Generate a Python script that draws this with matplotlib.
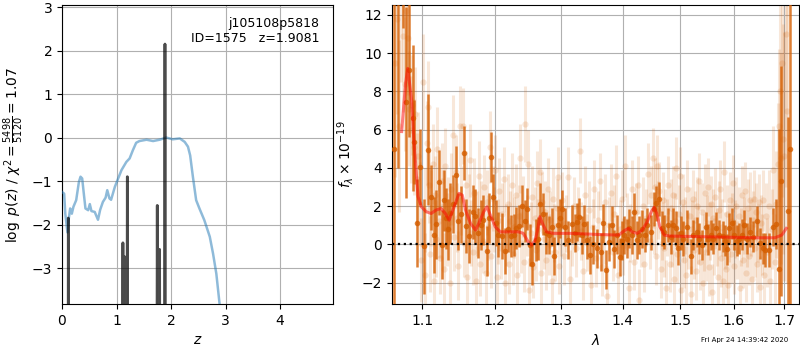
import numpy as np
import matplotlib
matplotlib.use("Agg")
import matplotlib.pyplot as plt
from matplotlib.ticker import NullLocator, FixedLocator, FixedFormatter

# ---------------- left panel data ----------------
z_chi = [0.0, 0.02, 0.04, 0.06, 0.10, 0.12, 0.15, 0.18, 0.21, 0.26, 0.31, 0.34, 0.37, 0.40,
         0.43, 0.48, 0.51, 0.54, 0.60, 0.66, 0.70, 0.75, 0.80, 0.83, 0.87, 0.90, 0.97, 1.03,
         1.09, 1.18, 1.24, 1.30, 1.36, 1.42, 1.55, 1.67, 1.79, 1.91, 2.03, 2.16, 2.25, 2.31,
         2.35, 2.40, 2.46, 2.52, 2.61, 2.71, 2.77, 2.83, 2.89, 2.95]
chi_val = [-1.25, -1.27, -1.29, -1.75, -2.18, -1.90, -1.63, -1.75, -1.59, -1.44, -1.02, -0.90,
           -0.94, -1.29, -1.63, -1.67, -1.53, -1.69, -1.71, -1.89, -1.66, -1.48, -1.38, -1.21,
           -1.40, -1.43, -1.13, -0.94, -0.75, -0.56, -0.48, -0.29, -0.12, -0.08, -0.05, -0.08,
           -0.05, 0.00, -0.04, -0.02, -0.10, -0.21, -0.41, -0.90, -1.44, -1.63, -1.90, -2.28,
           -2.67, -3.13, -3.83, -4.40]

z_pz = [0.0, 0.110, 0.116, 0.122, 1.105, 1.117, 1.128, 1.138, 1.148, 1.158, 1.188, 1.198,
        1.208, 1.737, 1.747, 1.757, 1.779, 1.789, 1.799, 1.877, 1.888, 1.899, 4.97]
logpz = [-8, -8, -1.85, -8, -8, -2.42, -8, -8, -2.74, -8, -8, -0.90, -8, -8, -1.56, -8, -8,
         -2.57, -8, -8, 2.15, -8, -8]

# ---------------- right panel data ----------------
# binned spectrum (bold points)
wl_bin = [1.0636, 1.0680, 1.0743, 1.0787, 1.0829, 1.0873, 1.0893, 1.0928, 1.0968, 1.1025,
          1.1079, 1.1114, 1.1158, 1.1181, 1.1227, 1.1263, 1.1290, 1.1318, 1.1345, 1.1377,
          1.1418, 1.1459, 1.1490, 1.1524, 1.1569, 1.1597, 1.1639, 1.1687, 1.1723, 1.1760,
          1.1800, 1.1833, 1.1885, 1.1914, 1.1947, 1.1980, 1.2020, 1.2053, 1.2100, 1.2147,
          1.2194, 1.2234, 1.2278, 1.2317, 1.2355, 1.2400, 1.2440, 1.2474, 1.2521, 1.2555,
          1.2606, 1.2646, 1.2672, 1.2713, 1.2764, 1.2811, 1.2850, 1.2893, 1.2945, 1.2980,
          1.3017, 1.3060, 1.3101, 1.3164, 1.3217, 1.3255, 1.3286, 1.3330, 1.3367, 1.3410,
          1.3458, 1.3511, 1.3567, 1.3637, 1.3675, 1.3719, 1.3769, 1.3823, 1.3857, 1.3896,
          1.3952, 1.3990, 1.4024, 1.4065, 1.4104, 1.4149, 1.4194, 1.4235, 1.4280, 1.4331,
          1.4378, 1.4420, 1.4481, 1.4534, 1.4563, 1.4622, 1.4670, 1.4716, 1.4776, 1.4837,
          1.4880, 1.4925, 1.4965, 1.5010, 1.5060, 1.5131, 1.5191, 1.5240, 1.5301, 1.5350,
          1.5405, 1.5468, 1.5510, 1.5561, 1.5610, 1.5660, 1.5720, 1.5786, 1.5830, 1.5873,
          1.5910, 1.5956, 1.6006, 1.6055, 1.6103, 1.6150, 1.6194, 1.6250, 1.6314, 1.6380,
          1.6458, 1.6511, 1.6565, 1.6618, 1.6686, 1.6766, 1.6834, 1.6902, 1.6936, 1.7067,
          1.7118]
fl_bin = [5.0, 13.0, 15.5, 7.43, 9.12, 6.60, 5.35, 1.10, 4.06, -0.10,
          4.94, 2.46, 0.49, 1.06, 3.26, -0.02, 2.30, 1.36, 0.80, 1.62,
          2.11, 3.63, 1.20, 1.57, 4.78, 0.96, 0.45, 1.71, 1.50, 0.60,
          1.00, 1.27, -0.35, 1.39, 4.57, 2.49, 1.10, 0.52, 0.43, -0.32,
          0.80, 0.43, 0.49, 0.87, 0.96, 2.02, 1.24, 1.85, -0.04, -1.03,
          0.21, 0.31, 2.10, 1.57, 0.61, 0.49, 0.90, -0.59, 1.01, 1.36,
          1.85, 0.90, 0.23, 1.08, 0.61, 1.18, 1.41, 0.50, 1.05, 0.23,
          -0.56, 0.00, -0.21, -0.38, 1.10, -1.31, 0.14, 1.01, -0.24, 0.52,
          -0.66, 0.20, 0.49, 0.31, 0.84, 0.49, 1.67, 0.23, 0.49, 0.80,
          0.49, 1.01, 0.63, 1.85, 2.15, 2.37, 0.84, 0.66, 1.01, 0.40,
          1.01, 0.84, -0.18, 0.60, 0.30, 0.92, -0.62, 0.49, 0.66, 0.30,
          -0.03, 0.92, 0.26, 0.49, 0.30, 0.87, 0.49, 0.42, 0.20, -0.26,
          0.84, 1.10, 0.49, 0.20, 0.31, 0.52, 1.01, 0.31, 0.66, 0.40,
          1.22, 0.05, -0.21, -0.30, -0.30, 0.92, 1.05, -1.26, 3.31, 1.74,
          5.0]
er_bin = [20.0, 9.0, 4.2, 5.0, 3.5, 3.8, 2.2, 2.3, 2.0, 2.5,
          2.9, 1.7, 2.0, 1.8, 1.7, 1.8, 1.6, 1.6, 1.6, 1.6,
          1.5, 1.5, 1.5, 1.5, 1.4, 1.4, 1.4, 1.4, 1.4, 1.3,
          1.3, 1.3, 1.3, 1.3, 1.3, 1.2, 1.2, 1.2, 1.2, 1.2,
          1.2, 1.1, 1.1, 1.1, 1.1, 1.1, 1.1, 1.1, 1.1, 1.1,
          1.1, 1.1, 1.1, 1.1, 1.1, 1.0, 1.0, 1.0, 1.0, 1.0,
          1.0, 1.0, 1.0, 1.0, 1.0, 1.0, 1.0, 1.0, 1.0, 1.0,
          1.0, 1.0, 1.0, 1.0, 1.0, 1.0, 1.0, 1.0, 1.0, 1.0,
          1.0, 1.0, 1.0, 1.0, 1.0, 1.0, 1.0, 1.0, 1.0, 1.0,
          0.9, 0.9, 0.9, 0.9, 0.9, 0.9, 0.9, 0.9, 0.9, 0.9,
          0.9, 0.9, 0.9, 0.9, 0.9, 0.9, 0.9, 0.8, 0.8, 0.8,
          0.8, 0.8, 0.8, 0.8, 0.8, 0.8, 0.8, 0.8, 0.8, 0.8,
          0.8, 0.8, 0.8, 0.8, 0.8, 0.8, 0.8, 0.8, 0.8, 0.8,
          0.8, 0.8, 0.8, 0.9, 0.9, 1.0, 1.3, 7.3, 6.0, 4.9,
          20.0]

# unbinned spectrum (faint points)
wl_raw = [1.064, 1.067, 1.070, 1.072, 1.075, 1.077, 1.079, 1.081, 1.083, 1.085, 1.087, 1.089,
          1.091, 1.093, 1.095, 1.097, 1.099,
          1.101, 1.103, 1.104, 1.106, 1.107, 1.109, 1.110, 1.112, 1.114, 1.115, 1.117, 1.119,
          1.120, 1.122, 1.124, 1.126, 1.128, 1.129, 1.131, 1.133, 1.135, 1.137, 1.139, 1.141,
          1.143, 1.145, 1.147, 1.149, 1.151, 1.153, 1.155, 1.157, 1.159, 1.161, 1.163, 1.165,
          1.167, 1.169, 1.171, 1.173, 1.175, 1.177, 1.179, 1.181, 1.183, 1.185, 1.187, 1.189,
          1.191, 1.193, 1.195, 1.197, 1.199,
          1.201, 1.203, 1.205, 1.207, 1.209, 1.211, 1.213, 1.215, 1.217, 1.219, 1.221, 1.223,
          1.225, 1.227, 1.229, 1.231, 1.233, 1.235, 1.237, 1.239, 1.241, 1.243, 1.245, 1.247,
          1.249, 1.251, 1.253, 1.255, 1.257, 1.259, 1.261, 1.263, 1.265, 1.267, 1.269, 1.271,
          1.273, 1.275, 1.277, 1.279, 1.281, 1.283, 1.285, 1.287, 1.289, 1.291, 1.293, 1.295,
          1.297, 1.299,
          1.302, 1.305, 1.308, 1.311, 1.314, 1.317, 1.320, 1.323, 1.326, 1.329, 1.332, 1.335,
          1.338, 1.341, 1.344, 1.347, 1.350, 1.353, 1.356, 1.359, 1.362, 1.365, 1.368, 1.371,
          1.374, 1.377, 1.380, 1.383, 1.386, 1.389, 1.392, 1.395, 1.398, 1.401, 1.404, 1.407,
          1.410, 1.413, 1.416, 1.419, 1.422, 1.425, 1.428, 1.431, 1.434, 1.437, 1.440, 1.443,
          1.446, 1.449,
          1.451, 1.453, 1.455, 1.457, 1.459, 1.461, 1.463, 1.465, 1.467, 1.469, 1.471, 1.473,
          1.475, 1.477, 1.479, 1.481, 1.483, 1.485, 1.487, 1.489, 1.491, 1.493, 1.495, 1.497,
          1.499, 1.501, 1.503, 1.505, 1.507, 1.509, 1.511, 1.513, 1.515, 1.517, 1.519, 1.521,
          1.523, 1.525, 1.527, 1.529, 1.531, 1.533, 1.535, 1.537, 1.539, 1.541, 1.543, 1.545,
          1.547, 1.549, 1.551, 1.553, 1.555, 1.557, 1.559, 1.561, 1.563, 1.565, 1.567, 1.569,
          1.571, 1.573, 1.575, 1.577, 1.579, 1.581, 1.583, 1.585, 1.587, 1.589, 1.591, 1.593,
          1.595, 1.597, 1.599, 1.601, 1.603, 1.605, 1.607, 1.609, 1.611, 1.613, 1.615, 1.617,
          1.619, 1.621, 1.623, 1.625, 1.627, 1.629, 1.631, 1.633, 1.635, 1.637, 1.639, 1.641,
          1.643, 1.645, 1.647, 1.649, 1.651, 1.653, 1.655, 1.657,
          1.660, 1.663, 1.666, 1.669, 1.672, 1.675, 1.678, 1.681, 1.684, 1.687, 1.690, 1.692,
          1.694, 1.696, 1.698, 1.700, 1.703, 1.706]
fl_raw = [9.5, 11.8, 6.2, 13.5, 10.9, 8.4, 12.2, 10.8, 7.1, 6.0, 7.3, 5.1,
          6.8, 3.4, 4.6, 2.1, -0.8,
          8.5, 1.8, -1.6, 5.3, 7.2, 3.1, -0.5, 1.9, 4.2, -1.9, 2.6, 0.3,
          5.0, 1.2, -0.7, 3.3, 2.0, -1.3, 4.1, 0.8, 1.7, -2.0, 2.9, 5.7,
          0.4, 3.8, 1.4, -1.1, 6.2, 2.3, 6.2, 0.1, 3.1, -1.7, 1.9, 4.4,
          0.6, -0.4, 2.7, -1.9, 1.1, 3.6, -1.0, 1.6, 0.2, 3.0, -1.5, 2.2,
          0.9, 5.1, -0.6, 2.4, 1.3,
          3.9, -1.7, 0.7, 2.8, -0.2, 1.6, 3.4, -2.0, 0.5, 2.1, -1.0, 1.2,
          3.1, -0.5, 0.9, 2.6, -1.6, 1.5, 4.5, 0.1, 2.0, -0.9, 6.3, 1.0,
          4.2, -2.4, 0.6, 2.5, -1.2, 1.4, -0.3, 3.2, 0.8, 3.8, -1.5, 2.2,
          0.3, 1.7, -0.8, 2.9, 0.0, 1.3, -1.9, 2.4, 0.6, -0.4, 1.9, 3.5,
          -1.1, 0.9,
          2.3, -0.6, 1.1, 3.5, -1.8, 0.4, 2.0, -0.2, 1.5, 4.9, 0.7, -1.4,
          2.6, 0.1, 1.8, -2.1, 0.9, 2.9, -0.7, 1.3, 3.3, -1.2, 0.5, 2.2,
          -2.7, 1.0, 2.7, -0.4, 1.6, 3.6, -1.6, 0.8, 2.4, -0.1, 4.1, 1.2,
          -2.3, 0.6, 2.9, -0.9, 1.7, 3.1, -2.9, 0.3, 2.0, -1.0, 1.4, 3.7,
          0.2, 2.6,
          4.5, 1.0, 3.0, -0.6, 4.1, 1.8, 2.8, -1.3, 0.7, 2.3, -0.2, 1.4,
          -2.3, 0.9, 3.1, -1.0, 1.9, 0.3, 2.6, -1.8, 1.2, 4.0, -0.5, 1.6,
          3.6, -2.4, 0.6, 2.2, -0.8, 1.0, -1.6, 2.9, 0.2, 1.5, -2.6, 0.8,
          2.4, -0.3, 1.3, -1.4, 2.0, 0.5, 3.3, -0.9, 1.7, -2.0, 0.1, 2.7,
          -0.4, 1.1, 3.0, -1.2, 0.7, 2.1, -2.5, 1.4, -0.1, 2.5, 0.4, -1.7,
          1.8, 2.9, -0.7, 0.9, -1.9, 3.8, 0.2, -1.3, 1.6, -2.1, 0.6, 2.3,
          -0.5, 1.2, 3.2, -1.1, 0.8, 2.0, -0.3, 1.5, -2.3, 0.4, 2.6, -0.8,
          1.0, 2.8, -1.5, 0.3, 1.9, -0.6, 2.3, 0.9, -1.8, 1.3, 2.4, -0.2,
          1.7, -1.0, 0.6, 2.2, -2.2, 1.1, 0.0, 2.3,
          -1.6, 1.5, -0.4, 2.0, -1.9, 0.8, 3.9, -0.9, 2.1, 4.2, 6.2, 8.0,
          4.5, 9.5, 5.5, 4.6, 11.0, 7.0]
er_raw = [6.0, 5.0, 4.5, 5.0, 4.0, 3.5, 3.5, 3.0, 3.0, 2.8, 2.6, 2.5,
          2.5, 2.4, 2.3, 2.2, 2.2,
          2.5, 2.2, 2.2, 2.2, 2.4, 2.0, 2.0, 2.0, 2.1, 2.0, 2.0, 2.0,
          2.2, 1.9, 1.9, 2.0, 1.9, 1.9, 2.0, 1.9, 1.8, 1.9, 1.9, 2.1,
          1.8, 1.9, 1.8, 1.8, 2.1, 1.8, 2.0, 1.8, 1.8, 1.8, 1.8, 1.9,
          1.7, 1.7, 1.8, 1.8, 1.7, 1.8, 1.7, 1.7, 1.7, 1.7, 1.7, 1.7,
          1.7, 1.9, 1.7, 1.7, 1.7,
          1.8, 1.7, 1.7, 1.7, 1.6, 1.6, 1.7, 1.7, 1.6, 1.6, 1.6, 1.6,
          1.7, 1.6, 1.6, 1.6, 1.6, 1.6, 1.8, 1.6, 1.6, 1.6, 2.0, 1.6,
          1.8, 1.7, 1.6, 1.6, 1.6, 1.6, 1.6, 1.7, 1.6, 1.7, 1.6, 1.6,
          1.6, 1.6, 1.6, 1.6, 1.6, 1.5, 1.6, 1.6, 1.5, 1.5, 1.5, 1.6,
          1.5, 1.5,
          1.5, 1.5, 1.5, 1.6, 1.5, 1.5, 1.5, 1.5, 1.5, 1.7, 1.5, 1.5,
          1.5, 1.5, 1.5, 1.5, 1.5, 1.5, 1.5, 1.5, 1.5, 1.5, 1.5, 1.5,
          1.6, 1.5, 1.5, 1.5, 1.5, 1.6, 1.5, 1.5, 1.5, 1.5, 1.6, 1.5,
          1.5, 1.5, 1.5, 1.5, 1.5, 1.5, 1.6, 1.5, 1.5, 1.5, 1.5, 1.6,
          1.5, 1.5,
          1.6, 1.5, 1.5, 1.5, 1.6, 1.5, 1.5, 1.5, 1.5, 1.5, 1.5, 1.5,
          1.5, 1.5, 1.5, 1.5, 1.5, 1.5, 1.5, 1.5, 1.5, 1.6, 1.5, 1.5,
          1.5, 1.5, 1.5, 1.5, 1.5, 1.5, 1.5, 1.5, 1.5, 1.5, 1.5, 1.5,
          1.5, 1.5, 1.5, 1.5, 1.5, 1.5, 1.5, 1.5, 1.5, 1.5, 1.5, 1.5,
          1.5, 1.5, 1.5, 1.5, 1.5, 1.5, 1.5, 1.5, 1.5, 1.5, 1.5, 1.5,
          1.5, 1.5, 1.5, 1.5, 1.5, 1.6, 1.5, 1.5, 1.5, 1.5, 1.5, 1.5,
          1.5, 1.5, 1.5, 1.5, 1.5, 1.5, 1.5, 1.5, 1.5, 1.5, 1.5, 1.5,
          1.5, 1.5, 1.5, 1.5, 1.5, 1.5, 1.5, 1.5, 1.5, 1.5, 1.5, 1.5,
          1.5, 1.5, 1.5, 1.5, 1.6, 1.5, 1.6, 1.6,
          1.7, 1.7, 1.8, 1.9, 2.0, 2.1, 2.3, 2.5, 2.8, 3.2, 4.0, 5.0,
          5.5, 7.0, 6.0, 6.5, 8.0, 9.0]

# model
wl_mod = [1.0731, 1.0751, 1.0781, 1.0810, 1.0859, 1.0889, 1.0914, 1.0944, 1.0988, 1.1053,
          1.1119, 1.1185, 1.1251, 1.1309, 1.1362, 1.1430, 1.1497, 1.1542, 1.1588, 1.1658,
          1.1728, 1.1774, 1.1844, 1.1891, 1.1938, 1.2009, 1.2081, 1.2201, 1.2347, 1.2421,
          1.2495, 1.2545, 1.2596, 1.2636, 1.2671, 1.2707, 1.2772, 1.2875, 1.3161, 1.3593,
          1.3928, 1.4041, 1.4099, 1.4157, 1.4243, 1.4331, 1.4418, 1.4489, 1.4536, 1.4584,
          1.4638, 1.4716, 1.4806, 1.5483, 1.6397, 1.6810, 1.6950, 1.7042]
fl_mod = [5.9, 6.9, 8.4, 9.2, 7.6, 5.5, 4.1, 2.5, 1.97, 1.71,
          1.62, 1.80, 1.88, 1.62, 1.27, 1.97, 2.67, 2.58, 1.80, 1.10,
          0.75, 1.10, 1.71, 1.97, 1.54, 0.92, 0.66, 0.66, 0.66, 0.58,
          0.14, -0.03, 0.19, 0.75, 1.45, 1.13, 0.66, 0.58, 0.58, 0.52,
          0.49, 0.75, 0.84, 0.66, 0.58, 0.75, 1.19, 1.71, 1.94, 1.62,
          0.92, 0.49, 0.44, 0.40, 0.35, 0.35, 0.49, 0.84]

lam_ticks = [1.1, 1.2, 1.3, 1.4, 1.5, 1.6, 1.7]
lam_ticklabels = ['1.1', '1.2', '1.3', '1.4', '1.5', '1.6', '1.7']

title_text = 'j105108p5818\nID=1575   z=1.9081'
stamp = 'Fri Apr 24 14:39:42 2020'

G141 = (0.8352941176470589, 0.3686274509803922, 0.0)

fig = plt.figure(figsize=(8, 3.5), dpi=100)

# ---- left panel ----
axz = fig.add_axes([0.0775, 0.131, 0.3388, 0.855])
axz.plot(z_chi, chi_val, color='C0', alpha=0.5, lw=1.8, zorder=3)
axz.plot(z_pz, logpz, color='k', alpha=0.7, lw=2, zorder=4)
axz.fill_between(z_pz, logpz, -10, color='k', alpha=0.15, lw=0, zorder=2)
axz.set_xlim(0, 4.97)
axz.set_ylim(-3.83, 3.05)
axz.set_xticks([0, 1, 2, 3, 4])
axz.set_yticks([-3, -2, -1, 0, 1, 2, 3])
axz.grid(True)
axz.set_axisbelow(True)
axz.set_xlabel('$z$')
axz.set_ylabel(r'$\log\ p(z)$' + ' / ' + r'$\chi^2=\frac{5498}{5120}=1.07$')
axz.text(0.95, 0.96, title_text, ha='right', va='top', transform=axz.transAxes,
         fontsize=9, zorder=10)

# ---- right panel ----
ax = fig.add_axes([0.4896, 0.131, 0.5095, 0.855])
ax.errorbar(wl_raw, fl_raw, yerr=er_raw, fmt='o', color=G141, alpha=0.15, ms=4.5,
            elinewidth=2.2, capsize=0, mew=0, zorder=2)
ax.errorbar(wl_bin, fl_bin, yerr=er_bin, fmt='o', color=G141, alpha=0.8, ms=4,
            elinewidth=1.8, capsize=0, mew=0, zorder=4)
ax.plot(wl_mod, fl_mod, color='r', alpha=0.5, lw=2.2, zorder=5)
ax.axhline(0, color='k', ls=':', lw=1.6, zorder=6)
ax.set_xscale('log')
ax.set_xlim(1.0603, 1.731)
ax.set_ylim(-3.12, 12.52)
ax.xaxis.set_major_locator(FixedLocator(lam_ticks))
ax.xaxis.set_major_formatter(FixedFormatter(lam_ticklabels))
ax.xaxis.set_minor_locator(NullLocator())
ax.set_yticks([-2, 0, 2, 4, 6, 8, 10, 12])
ax.grid(True)
ax.set_axisbelow(True)
ax.set_xlabel(r'$\lambda$')
ax.set_ylabel(r'$f_\lambda\times10^{-19}$')

fig.text(0.985, 0.02, stamp, ha='right', va='bottom', fontsize=5)

fig.savefig('out.png', dpi=100)
